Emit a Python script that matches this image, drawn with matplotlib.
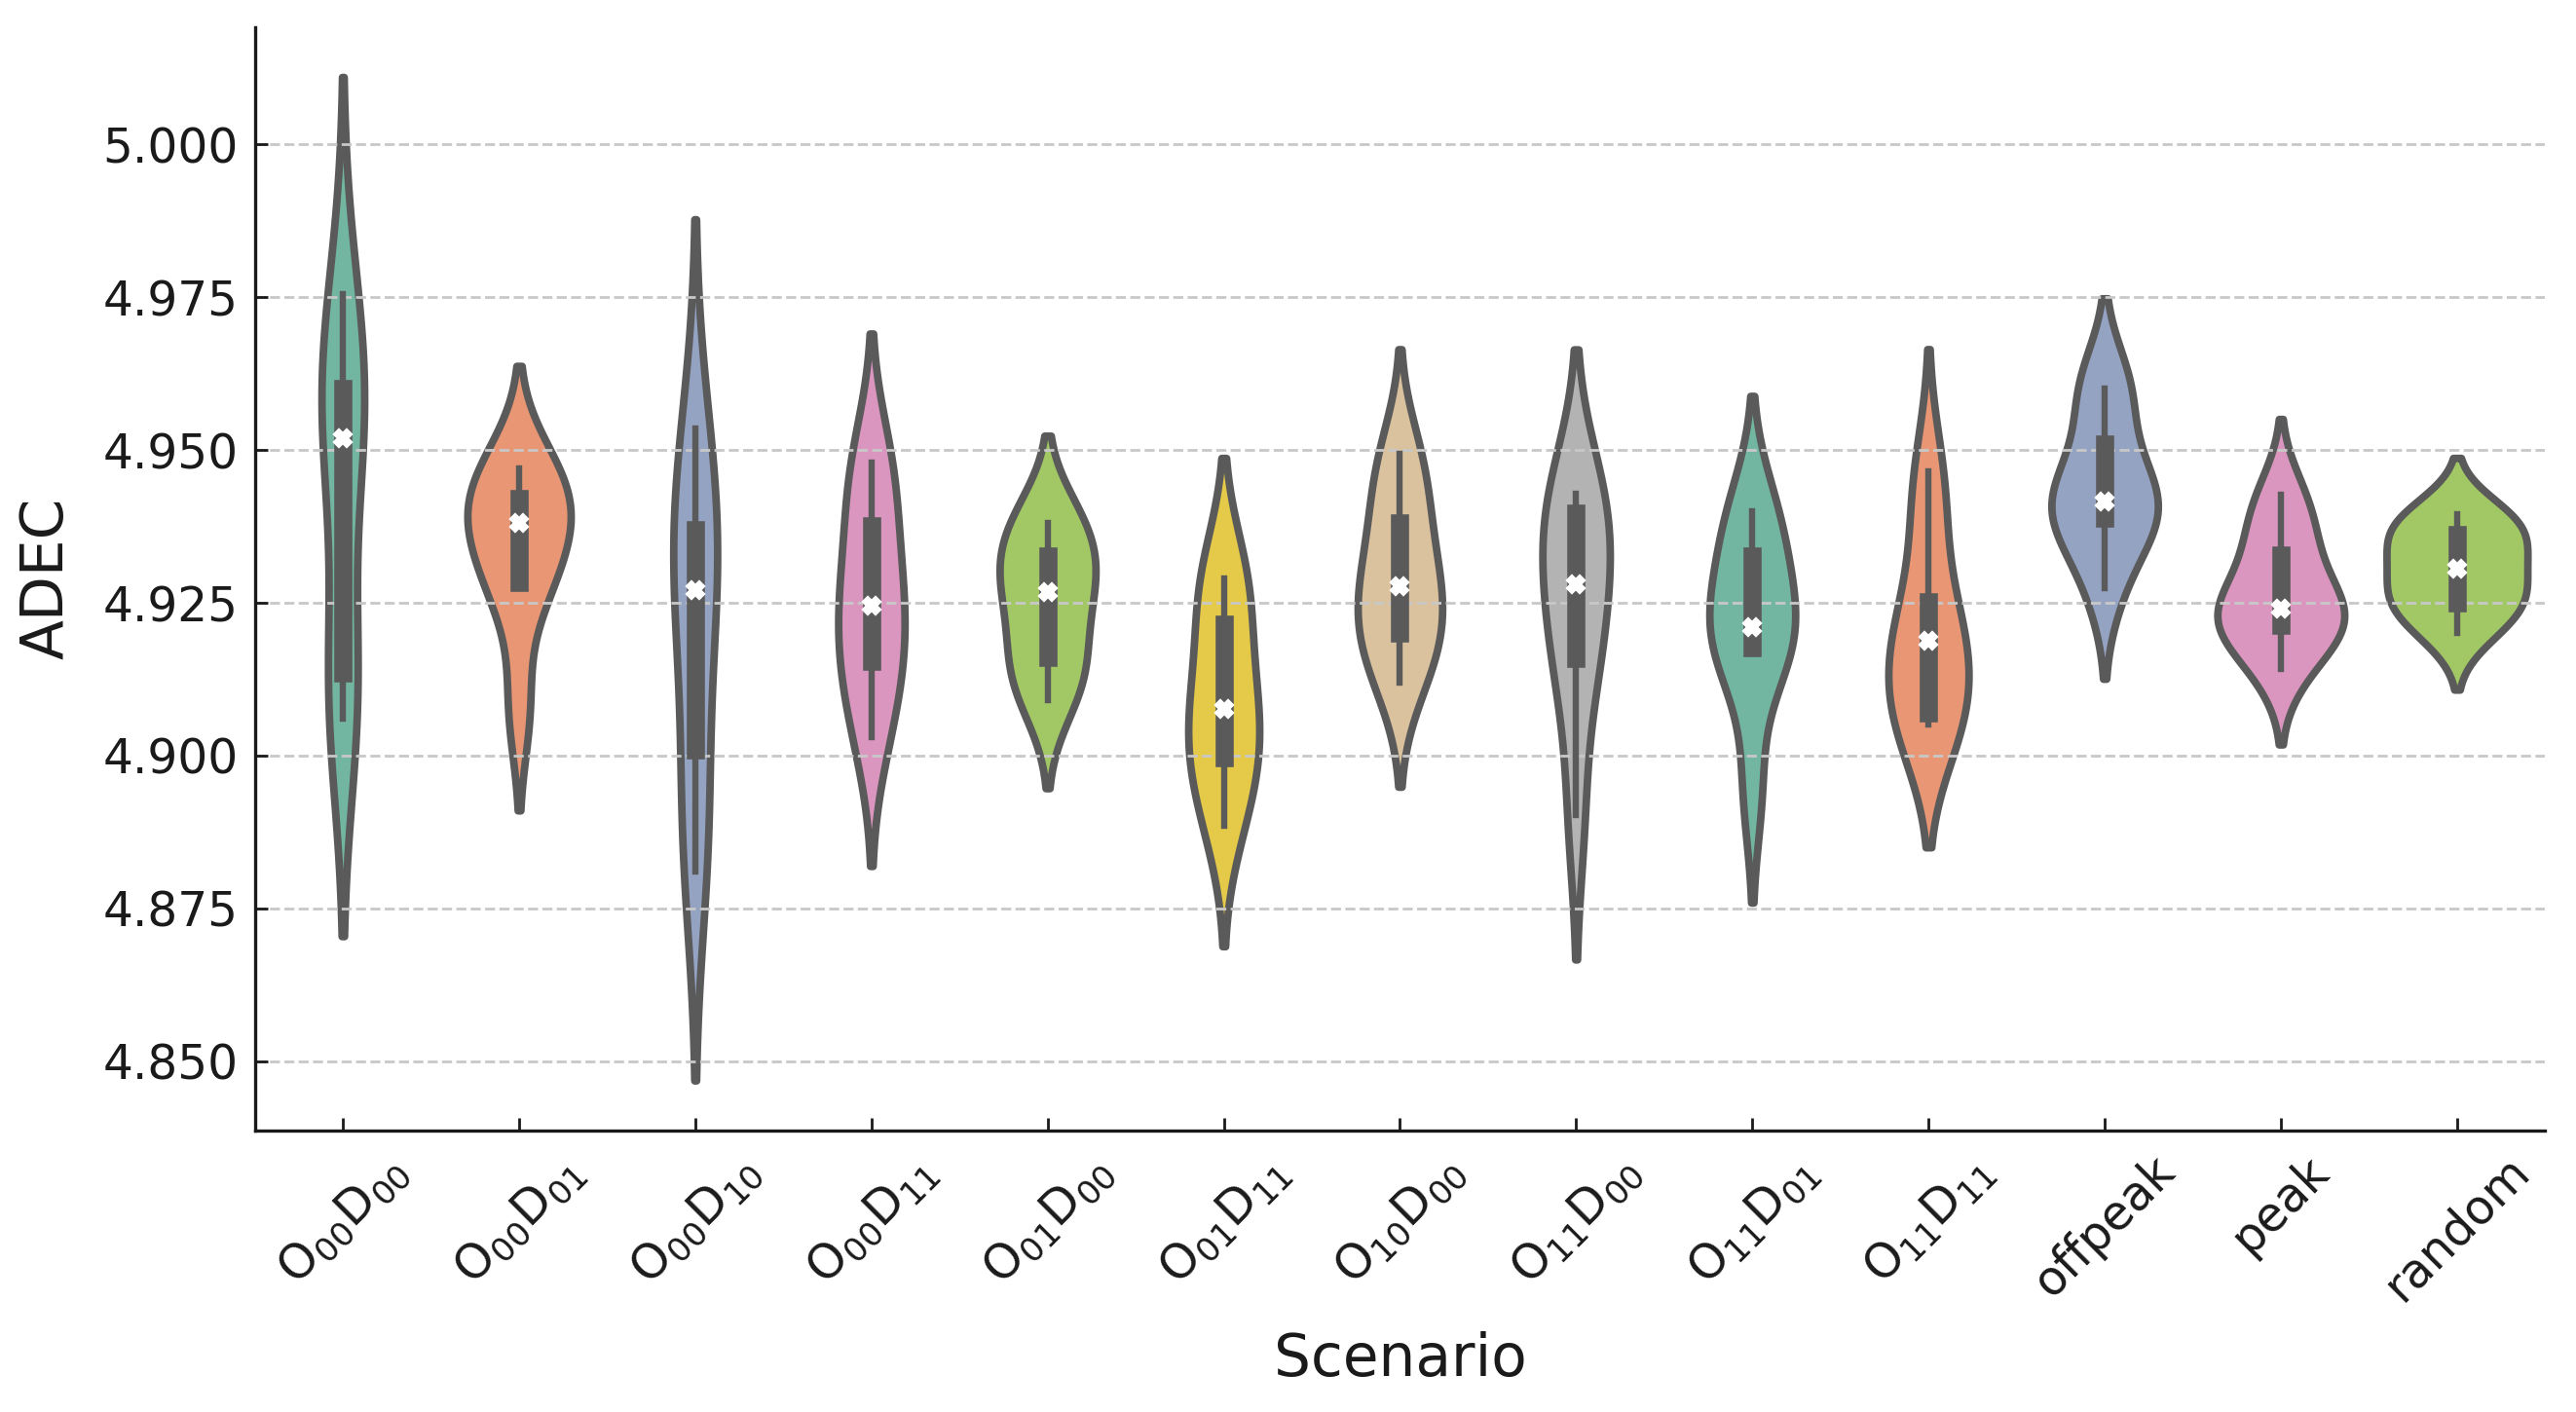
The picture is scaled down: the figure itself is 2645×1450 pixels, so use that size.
import pandas as pd
import matplotlib
matplotlib.use("Agg")
import matplotlib.pyplot as plt
import seaborn as sns
from matplotlib.ticker import MultipleLocator, FormatStrFormatter

# scenario names and their tick labels
scenarios = ["O00D00", "O00D01", "O00D10", "O00D11", "O01D00", "O01D11",
             "O10D00", "O11D00", "O11D01", "O11D11", "offpeak", "peak", "random"]
tick_labels = [r"$\mathregular{O_{00}D_{00}}$", r"$\mathregular{O_{00}D_{01}}$",
               r"$\mathregular{O_{00}D_{10}}$", r"$\mathregular{O_{00}D_{11}}$",
               r"$\mathregular{O_{01}D_{00}}$", r"$\mathregular{O_{01}D_{11}}$",
               r"$\mathregular{O_{10}D_{00}}$", r"$\mathregular{O_{11}D_{00}}$",
               r"$\mathregular{O_{11}D_{01}}$", r"$\mathregular{O_{11}D_{11}}$",
               "offpeak", "peak", "random"]

# ADEC per run, estimated from the figure
adec_o00d00 = [4.906, 4.911, 4.9143, 4.950, 4.954, 4.959, 4.963, 4.9755]
adec_o00d01 = [4.9078, 4.928, 4.9285, 4.936, 4.940, 4.941, 4.945, 4.947]
adec_o00d10 = [4.881, 4.889, 4.905, 4.925, 4.929, 4.935, 4.943, 4.9536]
adec_o00d11 = [4.903, 4.911, 4.917, 4.923, 4.9262, 4.935, 4.9454, 4.948]
adec_o01d00 = [4.909, 4.914, 4.9167, 4.925, 4.9286, 4.931, 4.9378, 4.938]
adec_o01d11 = [4.8885, 4.896, 4.9008, 4.906, 4.9094, 4.919, 4.929, 4.929]
adec_o10d00 = [4.912, 4.918, 4.9207, 4.926, 4.9294, 4.936, 4.944, 4.9494]
adec_o11d00 = [4.8903, 4.912, 4.9173, 4.926, 4.930, 4.939, 4.9418, 4.9428]
adec_o11d01 = [4.8948, 4.9175, 4.9178, 4.920, 4.922, 4.931, 4.9377, 4.940]
adec_o11d11 = [4.905, 4.906, 4.9073, 4.917, 4.9206, 4.921, 4.9378, 4.9465]
adec_offpeak = [4.9274, 4.937, 4.9394, 4.941, 4.9422, 4.948, 4.960, 4.960]
adec_peak = [4.9142, 4.921, 4.9215, 4.923, 4.925, 4.9315, 4.937, 4.9427]
adec_random = [4.920, 4.9245, 4.9252, 4.929, 4.932, 4.9355, 4.938, 4.9395]

all_runs = [adec_o00d00, adec_o00d01, adec_o00d10, adec_o00d11, adec_o01d00,
            adec_o01d11, adec_o10d00, adec_o11d00, adec_o11d01, adec_o11d11,
            adec_offpeak, adec_peak, adec_random]

rows = []
for name, runs in zip(scenarios, all_runs):
    for v in runs:
        rows.append({"Scenario": name, "ADEC": v})
df = pd.DataFrame(rows)

plt.rcParams["font.family"] = ["DejaVu Sans"]
plt.rcParams["axes.axisbelow"] = "line"
plt.rcParams["xtick.direction"] = "in"
plt.rcParams["ytick.direction"] = "in"

fig = plt.figure(figsize=(13.225, 7.25), dpi=200)
ax = fig.add_subplot(111)
fig.subplots_adjust(left=0.0989, right=0.988, bottom=0.1993, top=0.981)

sns.violinplot(data=df, x="Scenario", y="ADEC", hue="Scenario", order=scenarios,
               hue_order=scenarios, palette="Set2", legend=False, inner="box",
               common_norm=True, linewidth=2.8, linecolor="#5a5a5a",
               inner_kws=dict(box_width=6.7, whis_width=2.3, marker="X"),
               ax=ax)

ax.yaxis.set_major_locator(MultipleLocator(0.025))
ax.yaxis.set_major_formatter(FormatStrFormatter("%.3f"))
ax.set_xticks(range(len(scenarios)))
ax.set_xticklabels(tick_labels, rotation=45)
ax.tick_params(axis="both", labelsize=17.5, length=4.8, width=1.0,
               colors="#1a1a1a", pad=6)
ax.yaxis.grid(True, linestyle="--", color="#c8c8c8", linewidth=1.0)
ax.xaxis.grid(False)

for side in ["top", "right"]:
    ax.spines[side].set_visible(False)
for side in ["left", "bottom"]:
    ax.spines[side].set_linewidth(1.2)
    ax.spines[side].set_color("#1a1a1a")

ax.set_xlabel("Scenario", fontsize=21.5, color="#1a1a1a", labelpad=8)
ax.set_ylabel("ADEC", fontsize=21.5, color="#1a1a1a", labelpad=10)

fig.savefig("out.png", dpi=200)
